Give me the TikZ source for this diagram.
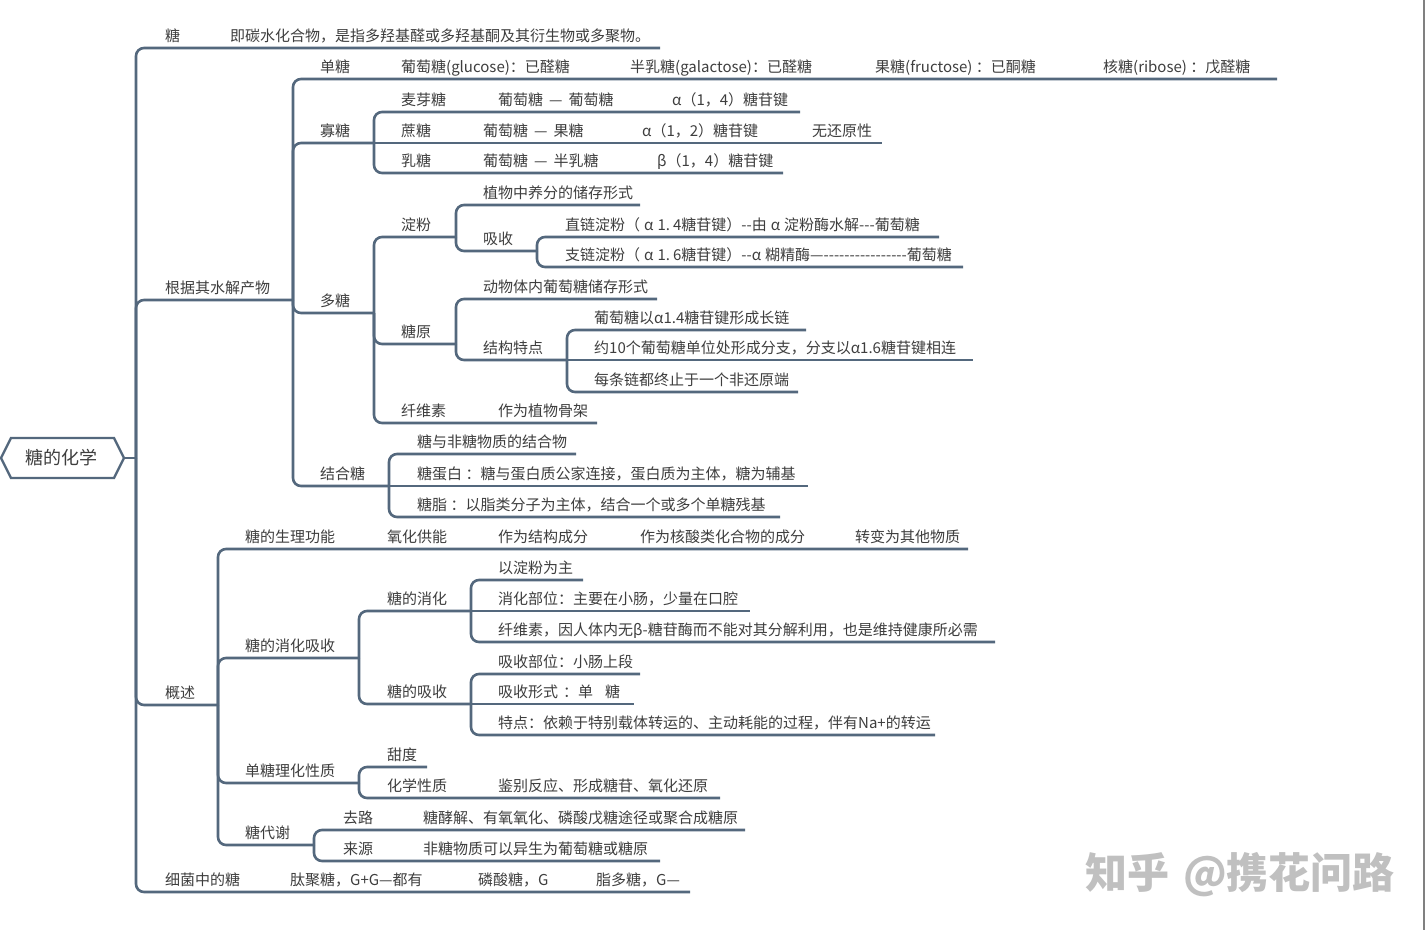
\documentclass[tikz,border=0pt]{standalone}
\usepackage{fontspec}
\setmainfont{Noto Sans CJK SC}
\newcommand\hy{\mbox{-}}
\definecolor{linec}{RGB}{84,104,125}
\definecolor{textc}{RGB}{62,62,62}
\definecolor{wmc}{RGB}{192,192,192}
\begin{document}
\begin{tikzpicture}[x=1pt,y=-1pt,
  ln/.style={draw=linec,line width=2.6pt,rounded corners=8pt},
  txt/.style={anchor=base west,inner sep=0pt,text=textc,font=\fontsize{15pt}{18pt}\selectfont},
  roottxt/.style={inner sep=0pt,text=textc,font=\fontsize{18pt}{20pt}\selectfont},
  wmark/.style={anchor=base west,inner sep=0pt,text=wmc,font=\fontsize{42pt}{44pt}\selectfont\bfseries}]
\fill[white] (0,0) rectangle (1425,930);
\useasboundingbox (0,0) rectangle (1425,930);
\draw[gray,line width=2pt] (1424,0) -- (1424,930);

% ---------- root ----------
\draw[draw=linec,line width=2.4pt,fill=white] (1,458) -- (11,438) -- (114,438) -- (124,458) -- (114,478) -- (11,478) -- cycle;
\node[roottxt] (root) at (61,458) {糖的化学};
\coordinate (rootTip) at (124,458);
\coordinate (j0) at (136,458);
\draw[ln] (rootTip) -- (j0);

% ---------- level 1 ----------
\coordinate (eA1) at (660,48);  \draw[ln] (j0) |- (eA1);
\coordinate (eA2) at (293,300); \draw[ln] (j0) |- (eA2);
\coordinate (eA3) at (218,705); \draw[ln] (j0) |- (eA3);
\coordinate (eA4) at (690,892); \draw[ln] (j0) |- (eA4);

% ---------- 根据其水解产物 ----------
\coordinate (eB1) at (1277,79); \draw[ln] (eA2) |- (eB1);
\coordinate (eB2) at (374,143); \draw[ln] (eA2) |- (eB2);
\coordinate (eB3) at (374,313); \draw[ln] (eA2) |- (eB3);
\coordinate (eB4) at (389,486); \draw[ln] (eA2) |- (eB4);

% 寡糖
\coordinate (eMai) at (800,112); \draw[ln] (eB2) |- (eMai);
\coordinate (eZhe) at (882,143); \draw[ln] (eB2) -- (eZhe);
\coordinate (eRu)  at (783,173); \draw[ln] (eB2) |- (eRu);

% 多糖
\coordinate (eDian) at (456,237); \draw[ln] (eB3) |- (eDian);
\coordinate (eYuan) at (456,344); \draw[ln] (eB3) |- (eYuan);
\coordinate (eXian) at (597,423); \draw[ln] (eB3) |- (eXian);

% 淀粉
\coordinate (eZhiW) at (640,205); \draw[ln] (eDian) |- (eZhiW);
\coordinate (eXi)   at (537,251); \draw[ln] (eDian) |- (eXi);
\coordinate (eZL)   at (939,237); \draw[ln] (eXi) |- (eZL);
\coordinate (eZZ)   at (963,267); \draw[ln] (eXi) |- (eZZ);

% 糖原
\coordinate (eDong) at (657,299); \draw[ln] (eYuan) |- (eDong);
\coordinate (eJie)  at (567,360); \draw[ln] (eYuan) |- (eJie);
\coordinate (eC1)   at (806,330); \draw[ln] (eJie) |- (eC1);
\coordinate (eC2)   at (973,360); \draw[ln] (eJie) -- (eC2);
\coordinate (eC3)   at (798,392); \draw[ln] (eJie) |- (eC3);

% 结合糖
\coordinate (eF1) at (576,454); \draw[ln] (eB4) |- (eF1);
\coordinate (eF2) at (808,486); \draw[ln] (eB4) -- (eF2);
\coordinate (eF3) at (780,517); \draw[ln] (eB4) |- (eF3);

% ---------- 概述 ----------
\coordinate (eG1) at (968,549); \draw[ln] (eA3) |- (eG1);
\coordinate (eG2) at (359,658); \draw[ln] (eA3) |- (eG2);
\coordinate (eG3) at (359,783); \draw[ln] (eA3) |- (eG3);
\coordinate (eG4) at (314,845); \draw[ln] (eA3) |- (eG4);

% 糖的消化吸收
\coordinate (eH1) at (471,611); \draw[ln] (eG2) |- (eH1);
\coordinate (eH2) at (471,704); \draw[ln] (eG2) |- (eH2);
% 糖的消化
\coordinate (eI1) at (583,580); \draw[ln] (eH1) |- (eI1);
\coordinate (eI2) at (750,611); \draw[ln] (eH1) -- (eI2);
\coordinate (eI3) at (995,642); \draw[ln] (eH1) |- (eI3);
% 糖的吸收
\coordinate (eK1) at (640,674); \draw[ln] (eH2) |- (eK1);
\coordinate (eK2) at (634,704); \draw[ln] (eH2) -- (eK2);
\coordinate (eK3) at (935,735); \draw[ln] (eH2) |- (eK3);
% 单糖理化性质
\coordinate (eL1) at (427,767); \draw[ln] (eG3) |- (eL1);
\coordinate (eL2) at (720,798); \draw[ln] (eG3) |- (eL2);
% 糖代谢
\coordinate (eM1) at (745,830); \draw[ln] (eG4) |- (eM1);
\coordinate (eM2) at (660,861); \draw[ln] (eG4) |- (eM2);

% ---------- texts ----------
\node[txt] (tA1) at (165,41) {糖};
\node[txt] (tA1b) at (230,41) {即碳水化合物，是指多羟基醛或多羟基酮及其衍生物或多聚物。};
\node[txt] (tA2) at (165,293) {根据其水解产物};
\node[txt] (tA3) at (165,698) {概述};
\node[txt] (tA4) at (165,885) {细菌中的糖};
\node[txt] (tA4b) at (290,885) {肽聚糖，G+G—都有};
\node[txt] (tA4c) at (478,885) {磷酸糖，G};
\node[txt] (tA4d) at (596,885) {脂多糖，G—};

\node[txt] (tB1) at (320,72) {单糖};
\node[txt] (tB1a) at (401,72) {葡萄糖(glucose)：已醛糖};
\node[txt] (tB1b) at (630,72) {半乳糖(galactose)：已醛糖};
\node[txt] (tB1c) at (875,72) {果糖(fructose) ：已酮糖};
\node[txt] (tB1d) at (1103,72) {核糖(ribose) ：戊醛糖};
\node[txt] (tB2) at (320,136) {寡糖};
\node[txt] (tB3) at (320,306) {多糖};
\node[txt] (tB4) at (320,479) {结合糖};

\node[txt] (tMai) at (401,105) {麦芽糖};
\node[txt] (tMai2) at (498,105) {葡萄糖\hspace{6pt}—\hspace{6pt}葡萄糖};
\node[txt] (tMai3) at (672,105) {α（1，4）糖苷键};
\node[txt] (tZhe) at (401,136) {蔗糖};
\node[txt] (tZhe2) at (483,136) {葡萄糖\hspace{6pt}—\hspace{6pt}果糖};
\node[txt] (tZhe3) at (642,136) {α（1，2）糖苷键};
\node[txt] (tZhe4) at (812,136) {无还原性};
\node[txt] (tRu) at (401,166) {乳糖};
\node[txt] (tRu2) at (483,166) {葡萄糖\hspace{6pt}—\hspace{6pt}半乳糖};
\node[txt] (tRu3) at (657,166) {β（1，4）糖苷键};

\node[txt] (tDian) at (401,230) {淀粉};
\node[txt] (tYuan) at (401,337) {糖原};
\node[txt] (tXian) at (401,416) {纤维素};
\node[txt] (tXian2) at (498,416) {作为植物骨架};
\node[txt] (tZhiW) at (483,198) {植物中养分的储存形式};
\node[txt] (tXi) at (483,244) {吸收};
\node[txt] (tZL) at (565,230) {直链淀粉（\hspace{4pt}α\hspace{4pt}1.\hspace{3pt}4糖苷键）\hy\hy 由\hspace{4pt}α\hspace{4pt}淀粉酶水解\hy\hy\hy 葡萄糖};
\node[txt] (tZZ) at (565,260) {支链淀粉（\hspace{4pt}α\hspace{4pt}1.\hspace{3pt}6糖苷键）\hy\hy α\hspace{4pt}糊精酶—\hy\hy\hy\hy\hy\hy\hy\hy\hy\hy\hy\hy\hy\hy\hy\hy 葡萄糖};
\node[txt] (tDong) at (483,292) {动物体内葡萄糖储存形式};
\node[txt] (tJie) at (483,353) {结构特点};
\node[txt] (tC1) at (594,323) {葡萄糖以α1.4糖苷键形成长链};
\node[txt] (tC2) at (594,353) {约10个葡萄糖单位处形成分支，分支以α1.6糖苷键相连};
\node[txt] (tC3) at (594,385) {每条链都终止于一个非还原端};
\node[txt] (tF1) at (417,447) {糖与非糖物质的结合物};
\node[txt] (tF2) at (417,479) {糖蛋白 ：糖与蛋白质公家连接，蛋白质为主体，糖为辅基};
\node[txt] (tF3) at (417,510) {糖脂 ：以脂类分子为主体，结合一个或多个单糖残基};

\node[txt] (tG1) at (245,542) {糖的生理功能};
\node[txt] (tG1a) at (387,542) {氧化供能};
\node[txt] (tG1b) at (498,542) {作为结构成分};
\node[txt] (tG1c) at (640,542) {作为核酸类化合物的成分};
\node[txt] (tG1d) at (855,542) {转变为其他物质};
\node[txt] (tG2) at (245,651) {糖的消化吸收};
\node[txt] (tG3) at (245,776) {单糖理化性质};
\node[txt] (tG4) at (245,838) {糖代谢};
\node[txt] (tH1) at (387,604) {糖的消化};
\node[txt] (tH2) at (387,697) {糖的吸收};
\node[txt] (tI1) at (498,573) {以淀粉为主};
\node[txt] (tI2) at (498,604) {消化部位：主要在小肠，少量在口腔};
\node[txt] (tI3) at (498,635) {纤维素，因人体内无β-糖苷酶而不能对其分解利用，也是维持健康所必需};
\node[txt] (tK1) at (498,667) {吸收部位：小肠上段};
\node[txt] (tK2) at (498,697) {吸收形式\hspace{5pt}：单\hspace{12pt}糖};
\node[txt] (tK3) at (498,728) {特点：依赖于特别载体转运的、主动耗能的过程，伴有Na+的转运};
\node[txt] (tL1) at (387,760) {甜度};
\node[txt] (tL2) at (387,791) {化学性质};
\node[txt] (tL2b) at (498,791) {鉴别反应、形成糖苷、氧化还原};
\node[txt] (tM1) at (343,823) {去路};
\node[txt] (tM1b) at (423,823) {糖酵解、有氧氧化、磷酸戊糖途径或聚合成糖原};
\node[txt] (tM2) at (343,854) {来源};
\node[txt] (tM2b) at (423,854) {非糖物质可以异生为葡萄糖或糖原};

% watermark
\node[wmark] (wm) at (1085,888) {知乎\hspace{14pt}@携花问路};
\end{tikzpicture}
\end{document}
